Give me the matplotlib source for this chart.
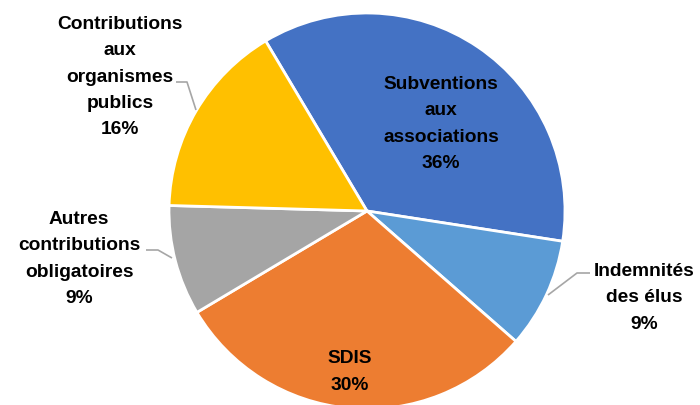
import matplotlib
matplotlib.use("Agg")
import matplotlib.pyplot as plt
from matplotlib import font_manager

names = {f.name for f in font_manager.fontManager.ttflist}
fam = "Liberation Sans Narrow" if "Liberation Sans Narrow" in names else "Liberation Sans"
plt.rcParams['font.family'] = [fam, 'DejaVu Sans']

labels = ["Subventions\naux\nassociations", "Indemnités\ndes élus", "SDIS",
          "Autres\ncontributions\nobligatoires", "Contributions\naux\norganismes\npublics"]
values = [36, 9, 30, 9, 16]
colors = ["#4472C4", "#5B9BD5", "#ED7D31", "#A5A5A5", "#FFC000"]

W, H = 700, 405
fig = plt.figure(figsize=(7, 4.05), dpi=100)
ax = fig.add_axes([0, 0, 1, 1])

cx, cy, r = 367, H - 211, 198
ax.pie(values, colors=colors, startangle=120.8, counterclock=False,
       center=(cx, cy), radius=r, frame=True,
       wedgeprops=dict(edgecolor='white', linewidth=2))
ax.set_xlim(0, W)
ax.set_ylim(0, H)
ax.axis('off')

pct = [f"{v}%" for v in values]
# label positions (pixel coords, y from top)
pos = [(441, 124), (644, 298), (350, 372), (79, 259), (120, 77)]
for lab, p, (x, y) in zip(labels, pct, pos):
    ax.text(x, H - y, lab + "\n" + p, ha='center', va='center', fontsize=13.8,
            fontweight='bold', color='black', linespacing=1.7)

# leader lines
lines = [
    [(176, 82), (187, 82), (196, 110)],
    [(146, 250), (158, 250), (172, 258)],
    [(590, 273), (577, 273), (548, 295)],
]
for pts in lines:
    xs = [p[0] for p in pts]
    ys = [H - p[1] for p in pts]
    ax.plot(xs, ys, color='#A6A6A6', lw=1.2, solid_capstyle='butt')

fig.savefig("out.png", dpi=100)
